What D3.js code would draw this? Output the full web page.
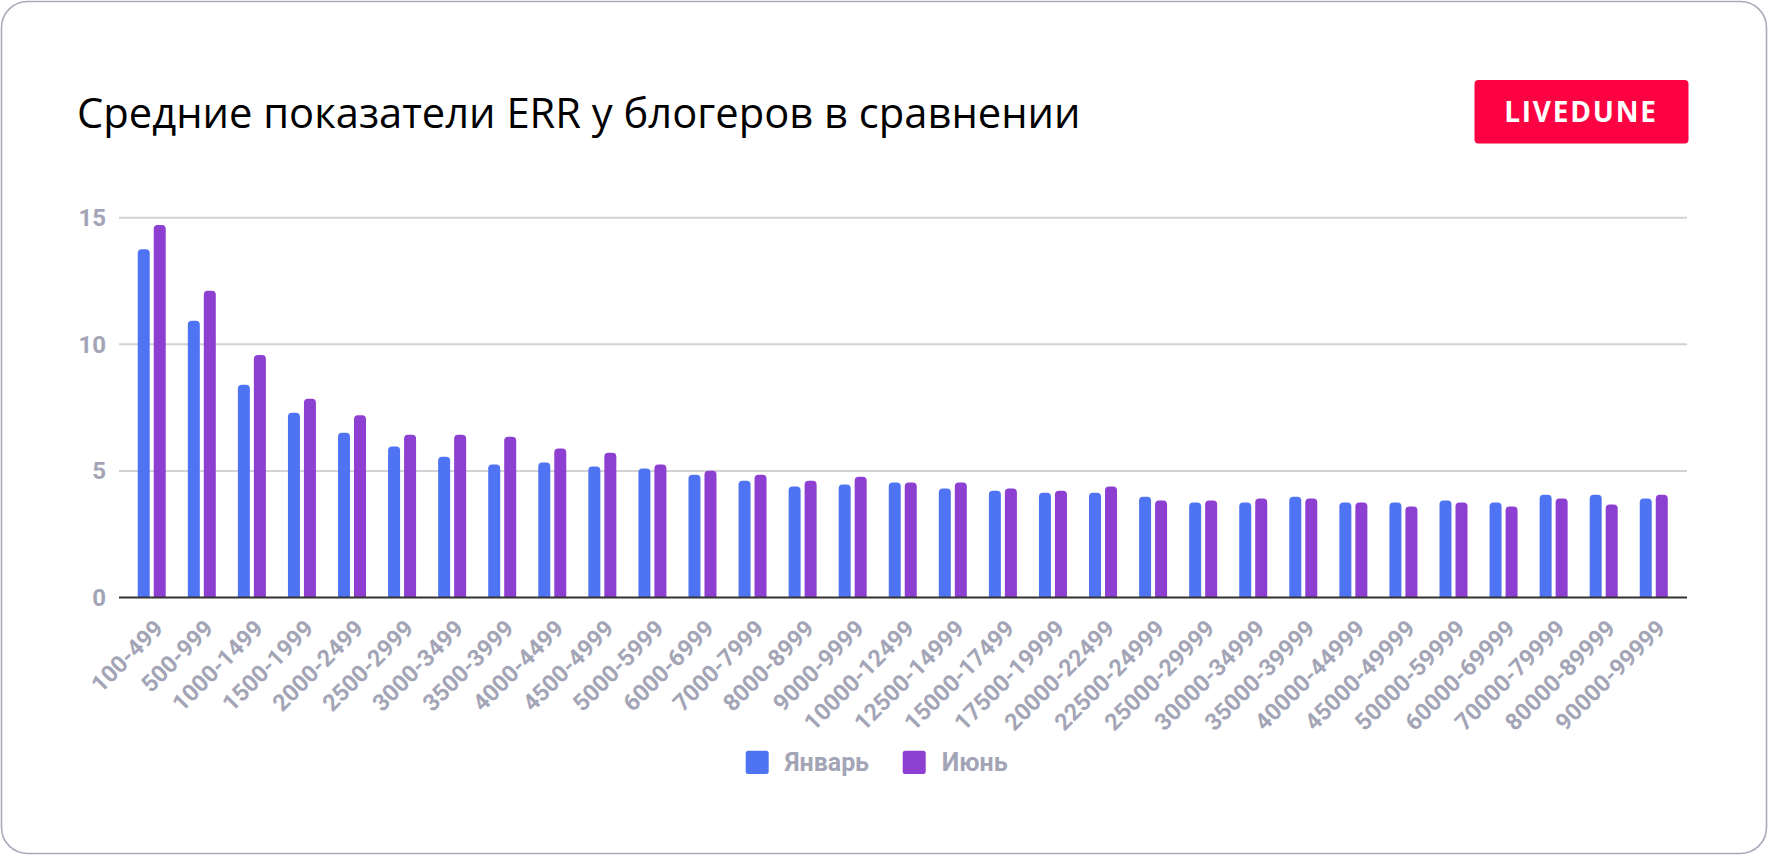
<!DOCTYPE html>
<html>
<head>
<meta charset="utf-8">
<script src="https://cdn.jsdelivr.net/npm/d3@7"></script>
<style>
  html, body { margin: 0; padding: 0; background: #ffffff; }
  svg { display: block; }
</style>
</head>
<body>
<div id="chart"></div>
<script>
const categories = ["100-499","500-999","1000-1499","1500-1999","2000-2499","2500-2999","3000-3499","3500-3999","4000-4499","4500-4999","5000-5999","6000-6999","7000-7999","8000-8999","9000-9999","10000-12499","12500-14999","15000-17499","17500-19999","20000-22499","22500-24999","25000-29999","30000-34999","35000-39999","40000-44999","45000-49999","50000-59999","60000-69999","70000-79999","80000-89999","90000-99999"];
const january = [13.75, 10.93, 8.40, 7.30, 6.51, 5.96, 5.56, 5.25, 5.33, 5.17, 5.09, 4.85, 4.61, 4.38, 4.46, 4.54, 4.30, 4.22, 4.14, 4.14, 3.98, 3.75, 3.75, 3.98, 3.75, 3.75, 3.83, 3.75, 4.06, 4.06, 3.91];
const june = [14.71, 12.11, 9.58, 7.85, 7.20, 6.43, 6.43, 6.35, 5.88, 5.72, 5.25, 5.01, 4.85, 4.61, 4.77, 4.54, 4.54, 4.30, 4.22, 4.38, 3.83, 3.83, 3.91, 3.91, 3.75, 3.59, 3.75, 3.59, 3.91, 3.67, 4.06];
const seriesNames = ["Январь", "Июнь"];
const seriesColors = ["#4f74f3", "#8c3fd1"];
const yTicks = [0, 5, 10, 15];
const titleText = "Средние показатели ERR у блогеров в сравнении";
const badgeText = "LIVEDUNE";

const W = 1769, H = 856;
const svg = d3.select("#chart").append("svg").attr("width", W).attr("height", H);

// card
svg.append("rect").attr("x", 1.5).attr("y", 1.5).attr("width", W - 4).attr("height", H - 4)
  .attr("rx", 26).attr("fill", "#fff").attr("stroke", "#a9abba").attr("stroke-width", 1.6);

// title
svg.append("text").attr("x", 77).attr("y", 127.5)
  .attr("font-family", "'Open Sans', 'Noto Sans', sans-serif").attr("font-weight", 500)
  .attr("font-size", 41.7).attr("fill", "#000").text(titleText);

// badge
svg.append("rect").attr("x", 1474.5).attr("y", 80).attr("width", 214).attr("height", 63.5)
  .attr("rx", 4).attr("fill", "#fd0243");
svg.append("text").attr("x", 1581).attr("y", 121.7).attr("text-anchor", "middle")
  .attr("font-family", "'Open Sans', sans-serif").attr("font-weight", 700)
  .attr("font-size", 28).attr("letter-spacing", 1.8).attr("fill", "#fff").text(badgeText);

// scales
const x = d3.scaleBand().domain(categories).range([126.7, 1678.8]).padding(0);
const bw = x.bandwidth();
const xs = d3.scaleBand().domain(seriesNames).range([bw / 2 - 14, bw / 2 + 14]).paddingInner(0.25).paddingOuter(0);
const y = d3.scaleLinear().domain([0, 15]).range([597.5, 217.7]);

const labelColor = "#a3a5b6";
const axisFont = "Roboto, 'Liberation Sans', Arial, sans-serif";

// grid
svg.append("g").selectAll("line").data(yTicks.filter(d => d !== 0)).join("line")
  .attr("x1", 119).attr("x2", 1687)
  .attr("y1", d => y(d)).attr("y2", d => y(d))
  .attr("stroke", "#d2d2d6").attr("stroke-width", 2);

// y labels
svg.append("g").selectAll("text").data(yTicks).join("text")
  .attr("x", 106).attr("y", d => y(d) + 8.5)
  .attr("text-anchor", "end").attr("font-family", axisFont).attr("font-weight", 700)
  .attr("font-size", 24).attr("fill", labelColor).text(d => d);

// bars
function topRounded(x0, y0, w, h, r) {
  r = Math.min(r, h, w / 2);
  return `M${x0},${y0 + h}V${y0 + r}Q${x0},${y0} ${x0 + r},${y0}H${x0 + w - r}Q${x0 + w},${y0} ${x0 + w},${y0 + r}V${y0 + h}Z`;
}
const rows = categories.map((c, i) => ({ c, vals: [january[i], june[i]] }));
const groups = svg.append("g").selectAll("g").data(rows).join("g")
  .attr("transform", d => `translate(${x(d.c)},0)`);
groups.selectAll("path").data(d => d.vals.map((v, k) => ({ v, k }))).join("path")
  .attr("d", d => topRounded(xs(seriesNames[d.k]), y(d.v), xs.bandwidth(), y(0) - y(d.v), 4))
  .attr("fill", d => seriesColors[d.k]);

// baseline axis
svg.append("line").attr("x1", 119).attr("x2", 1687).attr("y1", y(0)).attr("y2", y(0))
  .attr("stroke", "#333333").attr("stroke-width", 2.2);

// x labels
svg.append("g").selectAll("text").data(categories).join("text")
  .attr("transform", d => `translate(${x(d) + bw / 2 + 13},${630}) rotate(-45)`)
  .attr("text-anchor", "end").attr("font-family", axisFont).attr("font-weight", 700)
  .attr("font-size", 23.5).attr("fill", labelColor).text(d => d);

// legend
const legendX = [745.7, 902.7];
const lg = svg.append("g").selectAll("g").data(seriesNames).join("g")
  .attr("transform", (d, i) => `translate(${legendX[i]},750.7)`);
lg.append("rect").attr("width", 23).attr("height", 23.3).attr("rx", 2.5)
  .attr("fill", (d, i) => seriesColors[i]);
lg.append("text").attr("x", 39).attr("y", 20.5).attr("font-family", axisFont).attr("font-weight", 700)
  .attr("font-size", 25).attr("fill", labelColor).text(d => d);
</script>
</body>
</html>
